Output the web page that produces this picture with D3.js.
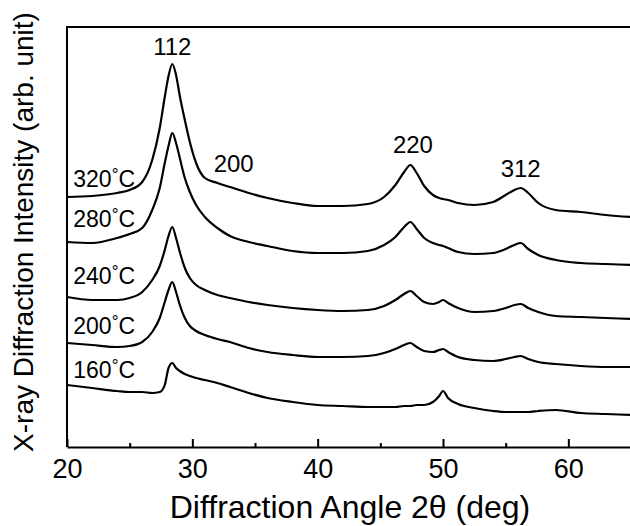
<!DOCTYPE html>
<html>
<head>
<meta charset="utf-8">
<script src="https://cdn.jsdelivr.net/npm/d3@7"></script>
<style>
  body { margin: 0; background: #fff; }
  svg { display: block; font-family: "Liberation Sans", Arial, sans-serif; }
</style>
</head>
<body>
<svg id="chart"></svg>
<script>
const angles = [20, 22, 24, 25, 26, 26.8, 27.4, 27.8, 28.1, 28.4, 28.7, 29.0, 29.4, 29.8, 30.3,
  31.0, 32.0, 33.0, 34.5, 36, 38, 40, 42, 44, 45.3, 46.2, 46.9, 47.4, 47.9, 48.5,
  49.2, 49.7, 50.0, 50.4, 51.2, 52.5, 54, 55, 55.7, 56.2, 56.8, 57.6, 59, 61, 63, 65];

// intensities (arb. unit, offset traces) per annealing temperature
const i320 = [250, 251, 254, 257, 265, 287, 319, 350, 371, 383, 372, 351, 327, 305, 284,
  269, 264, 260, 254, 249, 244, 241, 241, 243, 250, 262, 275, 282, 274, 261,
  252, 249, 248, 247, 244, 242, 245, 252, 257, 259, 254, 244, 237, 235, 232, 230];
const i280 = [205, 204, 209, 213, 219, 237, 259, 284, 301, 314, 304, 289, 269, 255, 242,
  230, 219, 211, 205, 201, 196, 194, 194, 196, 202, 210, 220, 225, 218, 209,
  204, 202, 201, 199, 195, 193, 194, 198, 202, 204, 198, 192, 187, 184, 183, 182];
const i240 = [150, 147, 147, 149, 155, 167, 181, 197, 211, 220, 209, 195, 179, 169, 162,
  157, 152, 149, 145, 142, 139, 137, 136, 137, 141, 147, 153, 156, 151, 145,
  143, 145, 147, 144, 139, 135, 136, 139, 142, 143, 139, 135, 131, 130, 129, 128];
const i200 = [104, 102, 100, 101, 105, 115, 129, 145, 157, 165, 155, 142, 129, 121, 116,
  112, 108, 105, 99, 95, 92, 90, 90, 91, 94, 98, 102, 104, 100, 96,
  95, 97, 98, 95, 90, 87, 86, 88, 90, 91, 88, 85, 83, 81, 80, 80];
const i160 = [62, 59, 56, 55, 55, 54, 55, 62, 79, 84, 79, 76, 73, 71, 69,
  67, 64, 60, 54, 49, 45, 42, 41, 40, 40, 40, 41, 41, 42, 42,
  45, 51, 56, 49, 43, 39, 36, 35, 35, 35, 35, 36, 37, 34, 33, 32];

const seriesNames = ["320", "280", "240", "200", "160"];
const seriesValues = [i320, i280, i240, i200, i160];
// where each temperature label sits: [angle, intensity]
const labelPos = [[20.5, 260], [20.5, 220], [20.5, 163], [20.5, 113], [20.5, 69]];

// reflection labels: hkl, angle, intensity of label baseline
const peakNames = ["112", "200", "220", "312"];
const peakAngles = [28.4, 33.3, 47.6, 56.2];
const peakLevels = [392, 275, 294, 270];

const xTicks = [20, 30, 40, 50, 60];
const xMinor = [25, 35, 45, 55, 65];

const width = 630, height = 526;
const margin = { left: 67, top: 27, right: 0, bottom: 79 };

const svg = d3.select("#chart").attr("width", width).attr("height", height);

const x = d3.scaleLinear().domain([20, 65]).range([margin.left, 631]);
const y = d3.scaleLinear().domain([0, 420]).range([height - margin.bottom, margin.top]);

const line = d3.line()
  .x((d, i) => x(angles[i]))
  .y(d => y(d))
  .curve(d3.curveMonotoneX);

svg.append("g")
  .selectAll("path")
  .data(seriesValues)
  .enter()
  .append("path")
  .attr("d", line)
  .attr("fill", "none")
  .attr("stroke", "#000")
  .attr("stroke-width", 2.2)
  .attr("stroke-linejoin", "round");

// minor ticks first so major axis draws on top
svg.append("g")
  .attr("transform", `translate(0,${y(0)})`)
  .call(d3.axisBottom(x).tickValues(xMinor).tickSize(-4).tickSizeOuter(0).tickFormat(""))
  .call(g => g.select(".domain").remove())
  .call(g => g.selectAll("line").attr("stroke-width", 2));

const xAxis = svg.append("g")
  .attr("transform", `translate(0,${y(0)})`)
  .call(d3.axisBottom(x).tickValues(xTicks).tickSize(-8).tickSizeOuter(0).tickPadding(12));
xAxis.select(".domain").attr("stroke-width", 2);
xAxis.selectAll("line").attr("stroke-width", 2);
xAxis.selectAll("text")
  .attr("font-size", 27)
  .attr("font-family", "Liberation Sans, Arial, sans-serif")
  .attr("fill", "#000")
  .attr("dy", "0.71em");

// left axis and top frame line
svg.append("line")
  .attr("x1", x(20)).attr("x2", x(20))
  .attr("y1", y(420)).attr("y2", y(0))
  .attr("stroke", "#000").attr("stroke-width", 2);
svg.append("line")
  .attr("x1", x(20) - 1).attr("x2", width)
  .attr("y1", y(420)).attr("y2", y(420))
  .attr("stroke", "#000").attr("stroke-width", 2);

// temperature labels
const tl = svg.append("g")
  .selectAll("text")
  .data(seriesNames)
  .enter()
  .append("text")
  .attr("x", (d, i) => x(labelPos[i][0]))
  .attr("y", (d, i) => y(labelPos[i][1]))
  .attr("font-size", 23)
  .attr("fill", "#000");
tl.append("tspan").text(d => d);
tl.append("tspan").attr("font-size", 17).attr("dy", -7).text("°");
tl.append("tspan").attr("dy", 7).text("C");

// reflection labels
svg.append("g")
  .selectAll("text")
  .data(peakNames)
  .enter()
  .append("text")
  .attr("x", (d, i) => x(peakAngles[i]))
  .attr("y", (d, i) => y(peakLevels[i]))
  .attr("text-anchor", "middle")
  .attr("font-size", 24)
  .attr("fill", "#000")
  .text(d => d);

// axis titles
svg.append("text")
  .attr("x", 350)
  .attr("y", 518)
  .attr("text-anchor", "middle")
  .attr("font-size", 32)
  .attr("fill", "#000")
  .text("Diffraction Angle 2θ (deg)");

svg.append("text")
  .attr("transform", "translate(33,232) rotate(-90)")
  .attr("text-anchor", "middle")
  .attr("font-size", 28)
  .attr("fill", "#000")
  .text("X-ray Diffraction Intensity (arb. unit)");
</script>
</body>
</html>
